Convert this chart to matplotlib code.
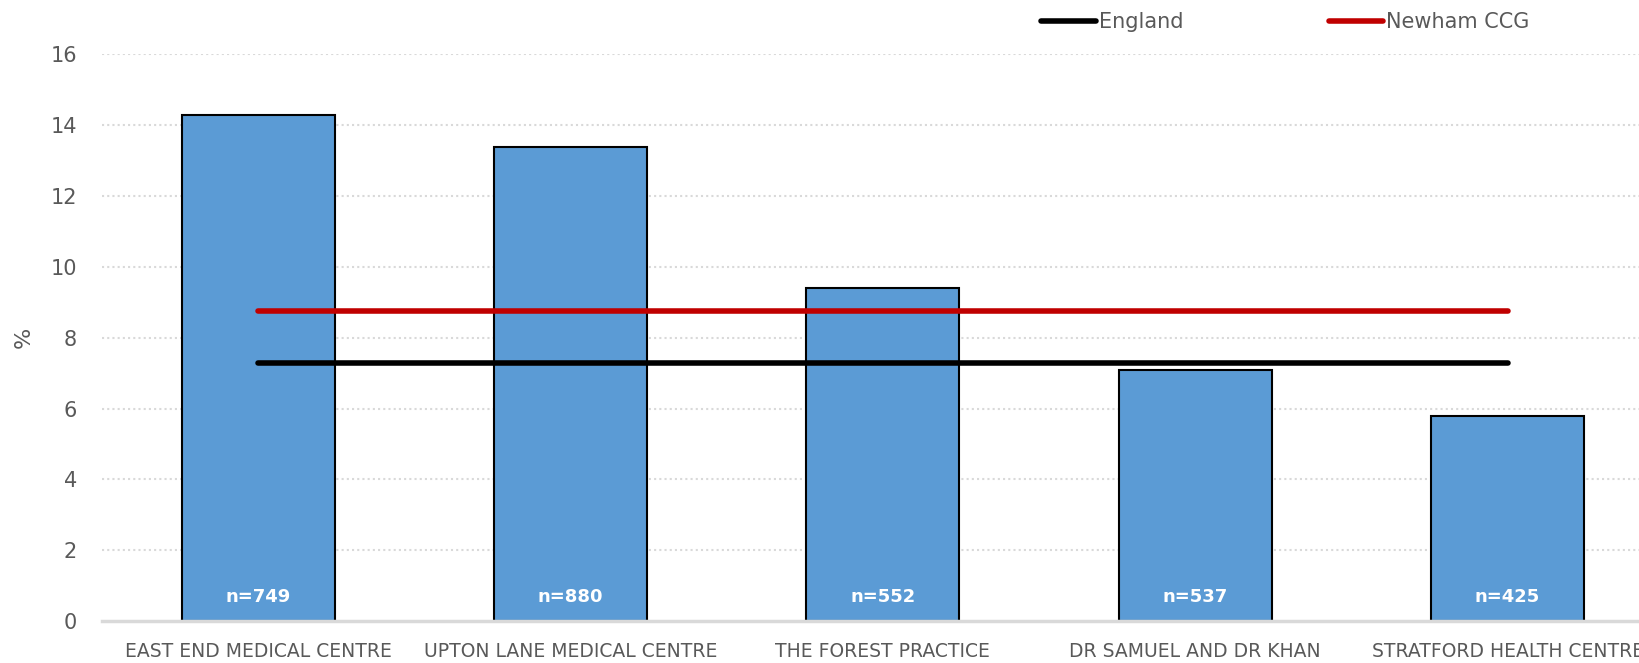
import numpy as np
import matplotlib

matplotlib.use('Agg')
import matplotlib.pyplot as plt  # noqa: E402

# --- Data ---
practices = [
    'EAST END MEDICAL CENTRE',
    'UPTON LANE MEDICAL CENTRE',
    'THE FOREST PRACTICE',
    'DR SAMUEL AND DR KHAN',
    'STRATFORD HEALTH CENTRE',
]
pct = [14.3, 13.4, 9.4, 7.1, 5.8]
n_counts = [749, 880, 552, 537, 425]
england = [7.3, 7.3, 7.3, 7.3, 7.3]
newham = [8.75, 8.75, 8.75, 8.75, 8.75]
y_ticks = [0, 2, 4, 6, 8, 10, 12, 14, 16]

GREY_TXT = '#595959'
GRID = '#d9d9d9'
BAR = '#5B9BD5'

fig = plt.figure(figsize=(16.39, 6.63), dpi=100)
# plot area runs off the right edge, as in the reference
ax = fig.add_axes([0.0622, 0.0633, 0.9529, 0.8546])

x = np.arange(len(practices))
ax.bar(x, pct, width=0.49, color=BAR, edgecolor='black', linewidth=1.5, zorder=2)

for xi, n in zip(x, n_counts):
    ax.text(xi, 0.68, f'n={n}', ha='center', va='center', color='white',
            fontsize=13, fontweight='bold', zorder=3)

ax.plot(x, england, color='black', lw=4, solid_capstyle='round', label='England', zorder=4)
ax.plot(x, newham, color='#C00000', lw=4, solid_capstyle='round', label='Newham CCG', zorder=4)

ax.set_xlim(-0.5, len(practices) - 0.5)
ax.set_ylim(0, 16)
ax.set_yticks(y_ticks)
ax.set_xticks(x)
ax.set_xticklabels(practices)
ax.tick_params(axis='both', length=0, colors=GREY_TXT)
ax.tick_params(axis='x', pad=15, labelsize=13.5)
ax.tick_params(axis='y', pad=18, labelsize=15)

for t in y_ticks[1:]:
    ax.axhline(t, color=GRID, lw=1.5, ls=(0, (1, 1.5)), zorder=1)

for side in ('top', 'right', 'left'):
    ax.spines[side].set_visible(False)
ax.spines['bottom'].set_color(GRID)
ax.spines['bottom'].set_linewidth(2.5)

ax.set_ylabel('%', color=GREY_TXT, fontsize=16, labelpad=12)

leg = fig.legend(loc='center left', bbox_to_anchor=(1033 / 1639, 1 - 22 / 663), ncol=2,
                 frameon=False, fontsize=15, handlelength=2.6, handletextpad=0.15,
                 columnspacing=7.0, borderaxespad=0)
for txt in leg.get_texts():
    txt.set_color(GREY_TXT)

fig.savefig('out.png')
